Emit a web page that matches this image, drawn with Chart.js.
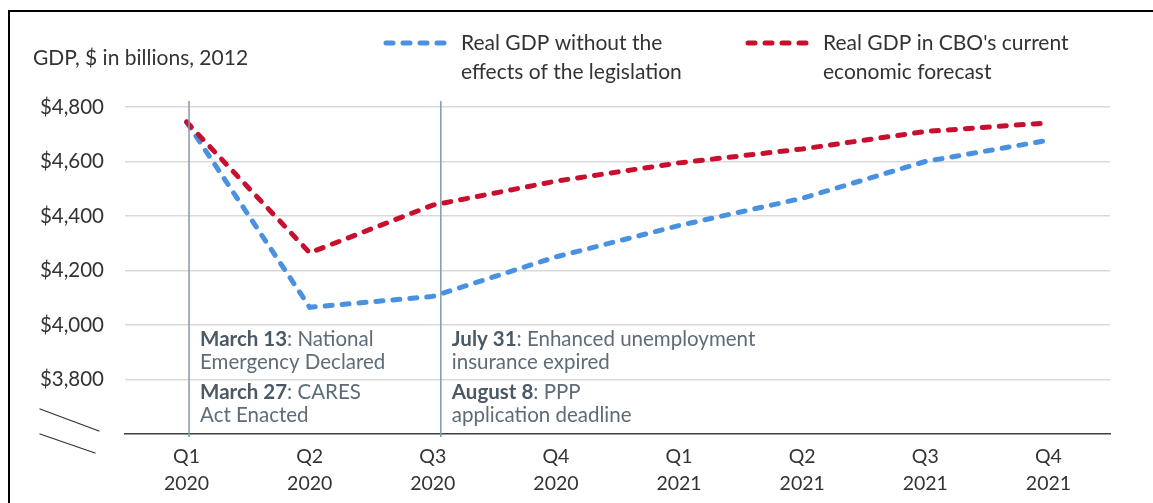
<!DOCTYPE html>
<html>
<head>
<meta charset="utf-8">
<script src="https://cdn.jsdelivr.net/npm/chart.js@4.4.1/dist/chart.umd.min.js"></script>
<style>
  html, body { margin: 0; padding: 0; background: #fff; }
  #wrap { position: relative; width: 1153px; height: 503px; overflow: hidden; }
  #frame { position: absolute; left: 8px; top: 10px; right: 0; bottom: 0; border-left: 2px solid #000; border-top: 2px solid #000; }
  canvas { position: absolute; left: 0; top: 0; }
</style>
</head>
<body>
<div id="wrap">
  <div id="frame"></div>
  <canvas id="gdpChart" width="1153" height="503"></canvas>
</div>
<script>
// quarters on the x axis
const quarters = [
    ['Q1', '2020'], ['Q2', '2020'], ['Q3', '2020'], ['Q4', '2020'],
    ['Q1', '2021'], ['Q2', '2021'], ['Q3', '2021'], ['Q4', '2021']
];
// real GDP, $ billions (2012)
const withoutLegislation = [4745, 4065, 4105, 4250, 4365, 4465, 4600, 4678];
const cboForecast = [4745, 4265, 4440, 4528, 4595, 4646, 4710, 4742];

const seriesLabels = [
    ['Real GDP without the', 'effects of the legislation'],
    ["Real GDP in CBO's current", 'economic forecast']
];
const axisTitle = 'GDP, $ in billions, 2012';
const yMin = 3600;
const yMax = 4800;
const yStep = 200;

// events marked with a vertical line (position in quarters from Q1 2020)
const eventQuarters = [0.02, 2.065];
const eventNotes = [
    [['March 13', ': National', 'Emergency Declared'], ['March 27', ': CARES', 'Act Enacted']],
    [['July 31', ': Enhanced unemployment', 'insurance expired'], ['August 8', ': PPP', 'application deadline']]
];

const FONT = 'Lato, "Open Sans", sans-serif';
const BLUE = '#4a92e0';
const RED = '#c8102e';

const overlay = {
    id: 'overlay',
    afterDatasetsDraw(chart) {
        const ctx = chart.ctx;
        const x = chart.scales.x;
        const y = chart.scales.y;
        const area = chart.chartArea;
        const step = x.getPixelForValue(1) - x.getPixelForValue(0);

        ctx.save();
        // event lines and notes
        eventQuarters.forEach((q, i) => {
            const px = x.getPixelForValue(0) + q * step;
            ctx.strokeStyle = '#7e9ab0';
            ctx.lineWidth = 1.5;
            ctx.beginPath();
            ctx.moveTo(px, area.top - 6);
            ctx.lineTo(px, area.bottom + 3);
            ctx.stroke();

            let ty = y.getPixelForValue(4000) + 14;
            ctx.textBaseline = 'middle';
            ctx.textAlign = 'left';
            eventNotes[i].forEach(note => {
                const tx = px + 11;
                ctx.font = 'bold 20.5px ' + FONT;
                ctx.fillStyle = '#4a5966';
                ctx.fillText(note[0], tx, ty);
                const w = ctx.measureText(note[0]).width;
                ctx.font = '20.5px ' + FONT;
                ctx.fillStyle = '#5d6c78';
                ctx.fillText(note[1], tx + w, ty);
                ctx.fillText(note[2], tx, ty + 23);
                ty += 53;
            });
        });
        ctx.restore();
    },
    afterDraw(chart) {
        const ctx = chart.ctx;
        const area = chart.chartArea;
        ctx.save();

        // axis title
        ctx.font = '21px ' + FONT;
        ctx.fillStyle = '#333';
        ctx.textBaseline = 'middle';
        ctx.textAlign = 'left';
        ctx.fillText(axisTitle, 33, 58);

        // legend
        const legendX = [383, 745];
        chart.data.datasets.forEach((ds, i) => {
            const lx = legendX[i];
            ctx.strokeStyle = ds.borderColor;
            ctx.lineWidth = ds.borderWidth;
            ctx.lineCap = 'round';
            ctx.setLineDash(ds.borderDash);
            ctx.beginPath();
            ctx.moveTo(lx + 3, 43);
            ctx.lineTo(lx + 68, 43);
            ctx.stroke();
            ctx.setLineDash([]);
            ctx.fillStyle = '#333';
            seriesLabels[i].forEach((line, j) => {
                ctx.fillText(line, lx + 78, 43 + j * 29);
            });
        });

        // axis break marks
        ctx.strokeStyle = '#333';
        ctx.lineWidth = 1.3;
        ctx.beginPath();
        ctx.moveTo(area.left - 85, area.bottom - 25);
        ctx.lineTo(area.left - 26, area.bottom - 3);
        ctx.moveTo(area.left - 85, area.bottom);
        ctx.lineTo(area.left - 30, area.bottom + 19);
        ctx.stroke();
        ctx.restore();
    }
};

new Chart(document.getElementById('gdpChart'), {
    type: 'line',
    data: {
        labels: quarters,
        datasets: [
            {
                label: seriesLabels[0].join(' '),
                data: withoutLegislation,
                borderColor: BLUE,
                borderWidth: 5,
                borderDash: [7, 10],
                borderCapStyle: 'round',
                pointRadius: 0,
                tension: 0,
                order: 2
            },
            {
                label: seriesLabels[1].join(' '),
                data: cboForecast,
                borderColor: RED,
                borderWidth: 5,
                borderDash: [7, 10],
                borderCapStyle: 'round',
                pointRadius: 0,
                tension: 0,
                order: 1
            }
        ]
    },
    options: {
        responsive: false,
        animation: false,
        layout: { padding: { top: 107, right: 43, left: 0, bottom: 0 } },
        plugins: {
            legend: { display: false },
            tooltip: { enabled: false }
        },
        scales: {
            x: {
                offset: true,
                grid: { display: false, drawTicks: false },
                border: { color: '#404040', width: 1.5 },
                ticks: {
                    color: '#333',
                    font: { family: FONT, size: 19.5, lineHeight: 1.35 },
                    padding: 10,
                    maxRotation: 0
                },
                afterFit: s => { s.height = 69; }
            },
            y: {
                min: yMin,
                max: yMax,
                grid: {
                    drawTicks: false,
                    lineWidth: 1.5,
                    color: c => c.tick && c.tick.value === yMin ? 'rgba(0,0,0,0)' : '#d9d9d9'
                },
                border: { display: false },
                ticks: {
                    stepSize: yStep,
                    padding: 21,
                    color: '#333',
                    font: { family: FONT, size: 20.5 },
                    callback: v => v === yMin ? '' : '$' + v.toLocaleString('en-US')
                },
                afterFit: s => { s.width = 125; }
            }
        }
    },
    plugins: [overlay]
});
</script>
</body>
</html>
